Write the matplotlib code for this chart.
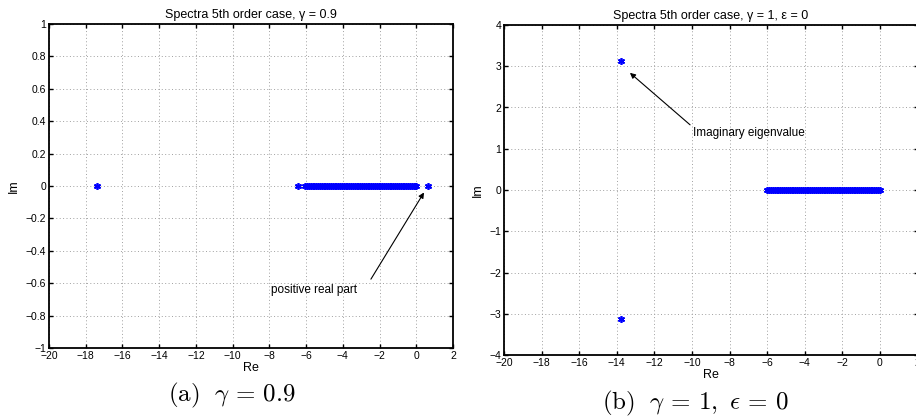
import numpy as np
import matplotlib.pyplot as plt

plt.rcParams['font.family'] = ['Liberation Sans', 'DejaVu Sans']
plt.rcParams['mathtext.fontset'] = 'cm'

# Data (a): gamma = 0.9
re_a_isolated = [-17.4, -6.44, 0.62]
im_a_isolated = [0.0, 0.0, 0.0]
re_a_dense = [-6.05, -5.95, -5.85, -5.75, -5.65, -5.55, -5.45, -5.35, -5.25, -5.15,
              -5.05, -4.95, -4.85, -4.75, -4.65, -4.55, -4.45, -4.35, -4.25, -4.15,
              -4.05, -3.95, -3.85, -3.75, -3.65, -3.55, -3.45, -3.35, -3.25, -3.15,
              -3.05, -2.95, -2.85, -2.75, -2.65, -2.55, -2.45, -2.35, -2.25, -2.15,
              -2.05, -1.95, -1.85, -1.75, -1.65, -1.55, -1.45, -1.35, -1.25, -1.15,
              -1.05, -0.95, -0.85, -0.75, -0.65, -0.55, -0.45, -0.35, -0.25, -0.15,
              -0.05, 0.0]

# Data (b): gamma = 1, eps = 0
re_b_imag = [-13.75, -13.75]
im_b_imag = [3.12, -3.12]
re_b_dense = [-6.0, -5.9, -5.8, -5.7, -5.6, -5.5, -5.4, -5.3, -5.2, -5.1,
              -5.0, -4.9, -4.8, -4.7, -4.6, -4.5, -4.4, -4.3, -4.2, -4.1,
              -4.0, -3.9, -3.8, -3.7, -3.6, -3.5, -3.4, -3.3, -3.2, -3.1,
              -3.0, -2.9, -2.8, -2.7, -2.6, -2.5, -2.4, -2.3, -2.2, -2.1,
              -2.0, -1.9, -1.8, -1.7, -1.6, -1.5, -1.4, -1.3, -1.2, -1.1,
              -1.0, -0.9, -0.8, -0.7, -0.6, -0.5, -0.4, -0.3, -0.2, -0.1, 0.0]

xticks = list(range(-20, 3, 2))
yticks_a = [-1, -0.8, -0.6, -0.4, -0.2, 0, 0.2, 0.4, 0.6, 0.8, 1]
yticks_b = [-4, -3, -2, -1, 0, 1, 2, 3, 4]

fig = plt.figure(figsize=(9.16, 4.19), dpi=100)
ax1 = fig.add_axes([49/916, 1-348/419, (453-49)/916, (348-24)/419])
ax2 = fig.add_axes([504/916, 1-355/419, (917.5-504)/916, (355-25)/419])

blue = '#0000ff'
mk = dict(marker=(6, 2, 0), linestyle='none', color=blue, markersize=5,
          markeredgewidth=1.2)


def fmt(v):
    return ('%g' % v).replace('-', '\u2212')


def style(ax, yticks, ylim):
    ax.set_xlim(-20, 2)
    ax.set_ylim(*ylim)
    ax.set_xticks(xticks)
    ax.set_xticklabels([fmt(t) for t in xticks])
    ax.set_yticks(yticks)
    ax.set_yticklabels([fmt(v) for v in yticks])
    ax.grid(True, linestyle=(0, (1, 2.5)), color='#a0a0a0', linewidth=0.7)
    ax.tick_params(direction='in', top=True, right=True, labelsize=7.5,
                   length=3, width=1.0, pad=2)
    for s in ax.spines.values():
        s.set_linewidth(1.3)
    ax.set_xlabel('Re', fontsize=9, labelpad=1)
    ax.set_ylabel('Im', fontsize=9, labelpad=4)


# (a)
ax1.plot(re_a_dense, [0.0] * len(re_a_dense), **mk)
ax1.plot(re_a_isolated, im_a_isolated, **mk)
style(ax1, yticks_a, (-1, 1))
ax1.set_title('Spectra 5th order case, \u03b3 = 0.9', fontsize=9, pad=4)
ax1.annotate('', xy=(0.42, -0.04), xytext=(-2.47, -0.575),
             arrowprops=dict(arrowstyle='-|>', color='black', lw=0.8,
                             mutation_scale=8, shrinkA=0, shrinkB=0))
ax1.text(-7.9, -0.64, 'positive real part', fontsize=8.5, ha='left', va='center')

# (b)
ax2.plot(re_b_dense, [0.0] * len(re_b_dense), **mk)
ax2.plot(re_b_imag, im_b_imag, **mk)
style(ax2, yticks_b, (-4, 4))
ax2.set_title('Spectra 5th order case, \u03b3 = 1, \u03b5 = 0', fontsize=9, pad=4)
ax2.annotate('', xy=(-13.3, 2.84), xytext=(-10.1, 1.58),
             arrowprops=dict(arrowstyle='-|>', color='black', lw=0.8,
                             mutation_scale=8, shrinkA=0, shrinkB=0))
ax2.text(-9.95, 1.38, 'Imaginary eigenvalue', fontsize=8.5, ha='left', va='center')

# captions
fig.text(232/916, 1-395/419, r'$\mathrm{(a)}\ \ \gamma \,=\, 0.9$', fontsize=18,
         ha='center', va='center')
fig.text(695/916, 1-403/419, r'$\mathrm{(b)}\ \ \gamma \,=\, 1,\ \epsilon \,=\, 0$',
         fontsize=18, ha='center', va='center')

fig.savefig('out.png', dpi=100)
